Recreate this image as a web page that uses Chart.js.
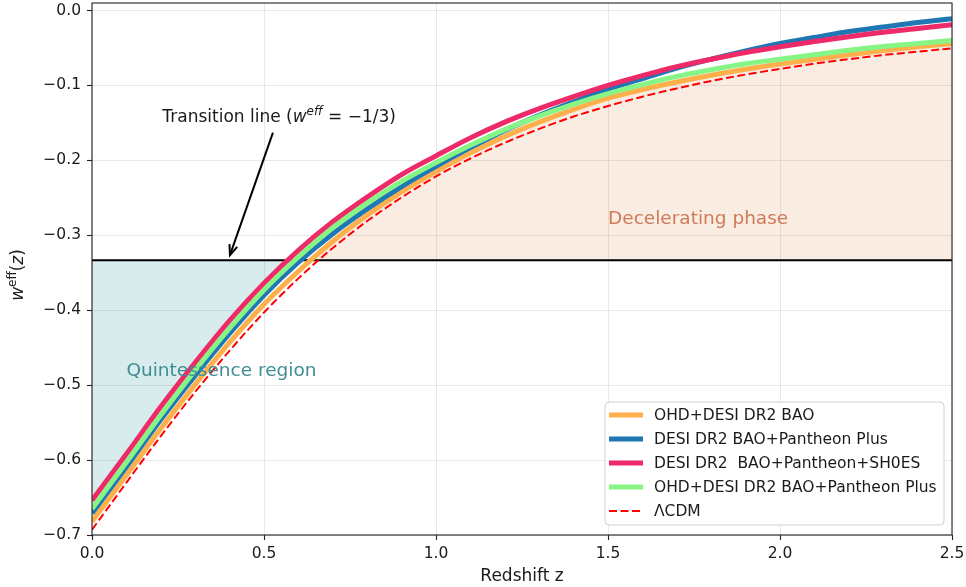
<!DOCTYPE html>
<html>
<head>
<meta charset="utf-8">
<script src="https://cdn.jsdelivr.net/npm/chart.js@4.4.0/dist/chart.umd.min.js"></script>
<style>
  html, body { margin: 0; padding: 0; background: #ffffff; }
  #wrap { width: 966px; height: 587px; }
</style>
</head>
<body>
<div id="wrap"><canvas id="chart" width="966" height="587"></canvas></div>
<script>
// Redshift grid and effective equation of state w_eff(z) for each data combination
const redshift = [0.0, 0.1, 0.2, 0.3, 0.4, 0.5, 0.6, 0.7, 0.8, 0.9, 1.0, 1.1, 1.2,
                  1.3, 1.4, 1.5, 1.6, 1.7, 1.8, 1.9, 2.0, 2.1, 2.2, 2.3, 2.4, 2.5];

const ohdDesiBao = [-0.682, -0.620, -0.558, -0.499, -0.443, -0.392, -0.348, -0.308, -0.273,
                    -0.242, -0.215, -0.190, -0.168, -0.149, -0.132, -0.117, -0.1055, -0.0955,
                    -0.0865, -0.0785, -0.0715, -0.065, -0.059, -0.0535, -0.0485, -0.044];

const desiPantheonPlus = [-0.671, -0.609, -0.546, -0.487, -0.431, -0.380, -0.336, -0.298, -0.265,
                          -0.235, -0.208, -0.183, -0.160, -0.140, -0.122, -0.105, -0.091, -0.077,
                          -0.065, -0.054, -0.044, -0.036, -0.028, -0.022, -0.016, -0.011];

const desiPantheonSh0es = [-0.654, -0.592, -0.529, -0.470, -0.414, -0.364, -0.320, -0.282, -0.249,
                           -0.219, -0.194, -0.170, -0.149, -0.131, -0.115, -0.100, -0.087, -0.075,
                           -0.065, -0.056, -0.0485, -0.0415, -0.035, -0.029, -0.024, -0.019];

const ohdDesiPantheonPlus = [-0.665, -0.603, -0.540, -0.480, -0.424, -0.373, -0.329, -0.290, -0.257,
                             -0.228, -0.203, -0.180, -0.159, -0.141, -0.125, -0.111, -0.099, -0.088,
                             -0.079, -0.071, -0.065, -0.059, -0.053, -0.048, -0.044, -0.040];

const lcdm = [-0.693, -0.630, -0.568, -0.509, -0.454, -0.403, -0.3575, -0.317, -0.281,
              -0.2495, -0.2215, -0.1975, -0.1765, -0.158, -0.1415, -0.1275, -0.115, -0.104,
              -0.094, -0.0855, -0.078, -0.071, -0.065, -0.0595, -0.055, -0.0505];

const seriesLabels = ['OHD+DESI DR2 BAO', 'DESI DR2 BAO+Pantheon Plus',
                      'DESI DR2  BAO+Pantheon+SH0ES', 'OHD+DESI DR2 BAO+Pantheon Plus', '\u039BCDM'];

// Acceleration threshold w_eff = -1/3
const transitionW = -1 / 3;

const xTicks = [0.0, 0.5, 1.0, 1.5, 2.0, 2.5];
const xTickLabels = ['0.0', '0.5', '1.0', '1.5', '2.0', '2.5'];
const yTicks = [-0.7, -0.6, -0.5, -0.4, -0.3, -0.2, -0.1, 0.0];
const yTickLabels = ['\u22120.7', '\u22120.6', '\u22120.5', '\u22120.4', '\u22120.3', '\u22120.2', '\u22120.1', '0.0'];

const FONT = '"DejaVu Sans", "Liberation Sans", sans-serif';
const TEXT = '#1a1a1a';

const toPoints = (ys) => redshift.map((z, i) => ({ x: z, y: ys[i] }));

function drawRich(ctx, x, y, parts, align) {
  let total = 0;
  parts.forEach(p => { ctx.font = p.font; p.w = ctx.measureText(p.text).width; total += p.w; });
  let cx = align === 'center' ? x - total / 2 : x;
  parts.forEach(p => {
    ctx.font = p.font;
    ctx.fillText(p.text, cx, y + (p.dy || 0));
    cx += p.w;
  });
}

const decorations = {
  id: 'decorations',
  afterDraw(chart) {
    const ctx = chart.ctx;
    const xs = chart.scales.x, ys = chart.scales.y;
    const area = chart.chartArea;
    const px = v => xs.getPixelForValue(v);
    const py = v => ys.getPixelForValue(v);
    ctx.save();

    // region labels
    ctx.textBaseline = 'middle';
    ctx.textAlign = 'left';
    ctx.font = '18.5px ' + FONT;
    ctx.fillStyle = '#3f8d94';
    ctx.fillText('Quintessence region', px(0.1), py(-0.481));
    ctx.fillStyle = '#d07b57';
    ctx.fillText('Decelerating phase', px(1.5), py(-0.278));

    // transition annotation
    ctx.fillStyle = TEXT;
    ctx.textBaseline = 'alphabetic';
    const f = '17px ' + FONT;
    const fi = 'oblique 17px ' + FONT;
    const fs = 'oblique 12px ' + FONT;
    drawRich(ctx, px(0.544), py(-0.1485), [
      { text: 'Transition line (', font: f },
      { text: 'w', font: fi },
      { text: 'eff', font: fs, dy: -7 },
      { text: ' = \u22121/3)', font: f }
    ], 'center');

    // arrow
    const x0 = px(0.526), y0 = py(-0.163);
    const x1 = px(0.401), y1 = py(-0.3265);
    ctx.strokeStyle = '#000';
    ctx.lineWidth = 2;
    ctx.beginPath();
    ctx.moveTo(x0, y0);
    ctx.lineTo(x1, y1);
    ctx.stroke();
    const ang = Math.atan2(y1 - y0, x1 - x0);
    const hl = 11, ha = 0.38;
    ctx.beginPath();
    ctx.moveTo(x1 - hl * Math.cos(ang - ha), y1 - hl * Math.sin(ang - ha));
    ctx.lineTo(x1, y1);
    ctx.lineTo(x1 - hl * Math.cos(ang + ha), y1 - hl * Math.sin(ang + ha));
    ctx.stroke();

    // frame
    ctx.strokeStyle = '#222';
    ctx.lineWidth = 1.1;
    ctx.strokeRect(area.left, area.top, area.right - area.left, area.bottom - area.top);

    // axis titles
    ctx.fillStyle = TEXT;
    ctx.textAlign = 'center';
    ctx.textBaseline = 'middle';
    ctx.font = '17px ' + FONT;
    ctx.fillText('Redshift z', (area.left + area.right) / 2, 577);

    ctx.save();
    ctx.translate(17, (area.top + area.bottom) / 2 + 6);
    ctx.rotate(-Math.PI / 2);
    ctx.textAlign = 'left';
    ctx.textBaseline = 'alphabetic';
    drawRich(ctx, 0, 6, [
      { text: 'w', font: 'oblique 17px ' + FONT },
      { text: 'eff', font: '12px ' + FONT, dy: -7 },
      { text: '(', font: '17px ' + FONT },
      { text: 'z', font: 'oblique 17px ' + FONT },
      { text: ')', font: '17px ' + FONT }
    ], 'center');
    ctx.restore();

    // legend
    const lx = 605, ly = 402, lw = 339, lh = 123;
    ctx.beginPath();
    ctx.roundRect(lx, ly, lw, lh, 4);
    ctx.fillStyle = 'rgba(255,255,255,0.85)';
    ctx.fill();
    ctx.strokeStyle = '#d0d0d0';
    ctx.lineWidth = 1;
    ctx.stroke();
    const legendSets = chart.data.datasets.filter(d => seriesLabels.includes(d.label));
    ctx.textAlign = 'left';
    ctx.textBaseline = 'middle';
    ctx.font = '15.5px ' + FONT;
    legendSets.forEach((d, i) => {
      const ry = 415 + i * 24;
      ctx.strokeStyle = d.borderColor;
      ctx.lineWidth = d.borderWidth;
      ctx.setLineDash(d.borderDash || []);
      ctx.beginPath();
      ctx.moveTo(609, ry);
      ctx.lineTo(643, ry);
      ctx.stroke();
      ctx.setLineDash([]);
      ctx.fillStyle = TEXT;
      ctx.fillText(d.label, 654, ry + 1);
    });

    ctx.restore();
  }
};

const lineStyle = { pointRadius: 0, pointHoverRadius: 0, cubicInterpolationMode: 'monotone', borderCapStyle: 'butt' };

new Chart(document.getElementById('chart'), {
  type: 'line',
  data: {
    datasets: [
      Object.assign({
        label: seriesLabels[0], data: toPoints(ohdDesiBao),
        borderColor: '#ffb04a', borderWidth: 5, order: 5,
        fill: { target: { value: transitionW }, above: 'rgba(210,105,30,0.13)', below: 'rgba(0,0,0,0)' }
      }, lineStyle),
      Object.assign({
        label: seriesLabels[1], data: toPoints(desiPantheonPlus),
        borderColor: '#1f77b4', borderWidth: 5, order: 4, fill: false
      }, lineStyle),
      Object.assign({
        label: seriesLabels[2], data: toPoints(desiPantheonSh0es),
        borderColor: '#ee2a68', borderWidth: 5, order: 3,
        fill: { target: { value: transitionW }, above: 'rgba(0,0,0,0)', below: 'rgba(0,125,135,0.15)' }
      }, lineStyle),
      Object.assign({
        label: seriesLabels[3], data: toPoints(ohdDesiPantheonPlus),
        borderColor: '#86f586', borderWidth: 5, order: 2, fill: false
      }, lineStyle),
      Object.assign({
        label: seriesLabels[4], data: toPoints(lcdm),
        borderColor: '#ff0000', borderWidth: 2, borderDash: [8, 3.5], order: 1, fill: false
      }, lineStyle),
      Object.assign({
        label: 'transition', data: [{ x: 0, y: transitionW }, { x: 2.5, y: transitionW }],
        borderColor: '#000000', borderWidth: 2, order: 6, fill: false
      }, lineStyle)
    ]
  },
  options: {
    responsive: false,
    animation: false,
    devicePixelRatio: 1,
    layout: { padding: { left: 0, right: 14, top: 3, bottom: 0 } },
    plugins: {
      legend: { display: false },
      tooltip: { enabled: false },
      filler: { drawTime: 'beforeDatasetsDraw' }
    },
    scales: {
      x: {
        type: 'linear', min: 0, max: 2.5,
        afterBuildTicks: s => { s.ticks = xTicks.map(v => ({ value: v })); },
        ticks: {
          autoSkip: false, maxRotation: 0, padding: 5, color: TEXT,
          font: { family: FONT, size: 15.5 },
          callback: v => xTickLabels[xTicks.findIndex(t => Math.abs(t - v) < 1e-9)]
        },
        grid: { color: 'rgba(0,0,0,0.09)', lineWidth: 1, tickColor: '#222', tickLength: 5, tickWidth: 1.1 },
        border: { display: false },
        afterFit: s => { s.height = 52; s.paddingLeft = 0; s.paddingRight = 0; }
      },
      y: {
        type: 'linear', min: -0.7, max: 0.01,
        afterBuildTicks: s => { s.ticks = yTicks.map(v => ({ value: v })); },
        ticks: {
          autoSkip: false, padding: 6, color: TEXT,
          font: { family: FONT, size: 15.5 },
          callback: v => yTickLabels[yTicks.findIndex(t => Math.abs(t - v) < 1e-9)]
        },
        grid: { color: 'rgba(0,0,0,0.09)', lineWidth: 1, tickColor: '#222', tickLength: 5, tickWidth: 1.1 },
        border: { display: false },
        afterFit: s => { s.width = 92; s.paddingTop = 0; s.paddingBottom = 0; }
      }
    }
  },
  plugins: [decorations]
});
</script>
</body>
</html>
